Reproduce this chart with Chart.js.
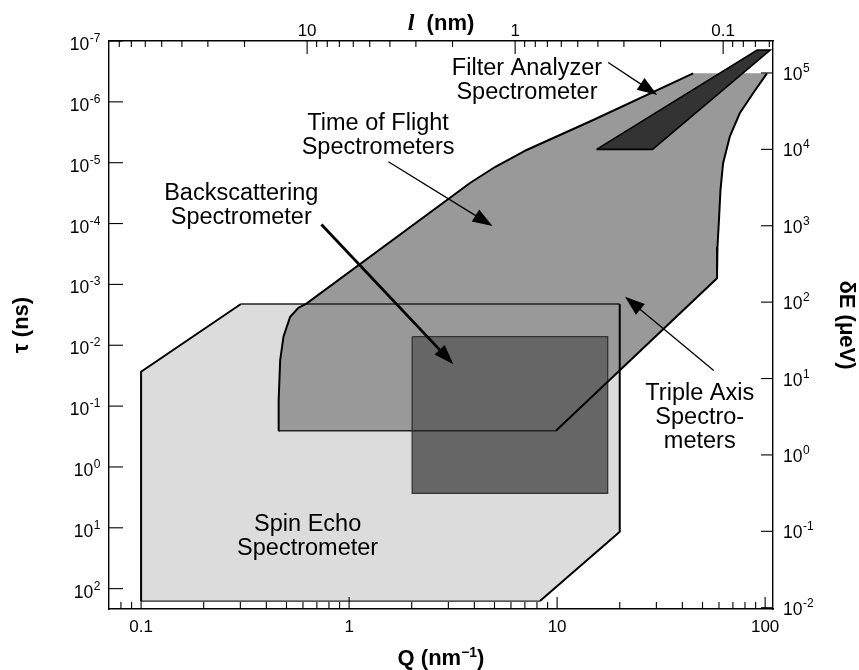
<!DOCTYPE html>
<html>
<head>
<meta charset="utf-8">
<script src="https://cdn.jsdelivr.net/npm/chart.js@4.4.1/dist/chart.umd.min.js"></script>
<style>
  html, body { margin: 0; padding: 0; background: #fff; }
  canvas { display: block; }
</style>
</head>
<body>
<canvas id="chart" width="859" height="670"></canvas>
<script>
// ---- axis ranges (Q in nm^-1, tau in ns, dE in ueV) ----
const qMin = 0.0701, qMax = 109.1;
const tauMin = 1e-7, tauMax = 216;
const eMin = 0.00962, eMax = 262000;

// ---- regions (Q, tau) ----
const spinQ   = [0.1, 0.1, 0.302, 20, 20, 8.27, 0.1];
const spinTau = [160, 0.0272, 0.0021, 0.0021, 11.6, 160, 160];

const backQ   = [2.01, 17.5, 17.5, 2.01, 2.01];
const backTau = [0.00723, 0.00723, 2.71, 2.71, 0.00723];

const tofQ   = [0.458, 0.4585, 0.4663, 0.4836, 0.5207, 0.569, 0.626, 3.813, 5.026, 7.138, 14.91, 45.06,
                102, 87.5, 75.5, 67.6, 62.8, 61.0, 60.1, 59.0, 58.7, 9.87, 0.458];
const tofTau = [0.254, 0.0794, 0.01746, 0.00723, 0.0034, 0.00244, 0.00205, 2.157e-5, 1.177e-5, 6.18e-6, 1.99e-6, 3.40e-7,
                3.40e-7, 7.22e-7, 1.54e-6, 3.74e-6, 1.02e-5, 2.81e-5, 7.71e-5, 2.40e-4, 7.94e-4, 0.254, 0.254];

const filterQ   = [15.48, 28.75, 105.8, 91.6, 15.48];
const filterTau = [6.03e-6, 6.03e-6, 1.41e-7, 1.41e-7, 6.03e-6];

// ---- tick values ----
const qMajor = [0.1, 1, 10, 100];
const qMajorLabels = ['0.1', '1', '10', '100'];
const qMinor = [0.08, 0.09, 0.2, 0.3, 0.4, 0.5, 0.6, 0.7, 0.8, 0.9, 2, 3, 4, 5, 6, 7, 8, 9,
                20, 30, 40, 50, 60, 70, 80, 90];
const lMajor = [10, 1, 0.1];
const lMajorLabels = ['10', '1', '0.1'];
const lMinor = [80, 70, 60, 50, 40, 30, 20, 9, 8, 7, 6, 5, 4, 3, 2,
                0.9, 0.8, 0.7, 0.6, 0.5, 0.4, 0.3, 0.2, 0.09, 0.08, 0.07, 0.06];
const tauExps = [-7, -6, -5, -4, -3, -2, -1, 0, 1, 2];
const eExps   = [-2, -1, 0, 1, 2, 3, 4, 5];

// ---- annotations ----
const notes = [
  { lines: ['Filter Analyzer', 'Spectrometer'], at: [7.16, 3.62e-7] },
  { lines: ['Time of Flight', 'Spectrometers'], at: [1.378, 2.90e-6] },
  { lines: ['Backscattering', 'Spectrometer'], at: [0.303, 4.10e-5] },
  { lines: ['Triple Axis', 'Spectro-', 'meters'], at: [48.5, 0.0794] },
  { lines: ['Spin Echo', 'Spectrometer'], at: [0.632, 11.3] }
];
const arrows = [
  { from: [17.6, 2.25e-7], to: [30.3, 7.72e-7], w: 1.3 },
  { from: [1.545, 9.63e-6], to: [4.89, 1.097e-4], w: 1.3 },
  { from: [0.736, 1.036e-4], to: [3.17, 0.02056], w: 2.8 },
  { from: [56.6, 0.026], to: [21.2, 1.59e-3], w: 1.3 }
];

const SANS = "'Liberation Sans', Arial, Helvetica, sans-serif";
const pts = (qs, ts) => qs.map((q, i) => ({ x: q, y: ts[i] }));
const flat = c => c.p0.parsed.y === c.p1.parsed.y;

function fillSet(qs, ts, color, order) {
  return { data: pts(qs, ts), showLine: true, fill: 'shape', backgroundColor: color,
           borderWidth: 0, borderColor: 'rgba(0,0,0,0)', pointRadius: 0, order: order };
}
function lineSet(qs, ts, color, width, extra) {
  return Object.assign({ data: pts(qs, ts), showLine: true, fill: false, borderColor: color,
           borderWidth: width, pointRadius: 0, order: 0, borderJoinStyle: 'miter' }, extra || {});
}

function drawPow(ctx, exp, x, y, align) {
  ctx.font = '17.5px ' + SANS;
  const w1 = ctx.measureText('10').width;
  ctx.font = '12px ' + SANS;
  const es = String(exp);
  const w2 = ctx.measureText(es).width;
  let x0 = align === 'right' ? x - w1 - w2 : x;
  ctx.textAlign = 'left';
  ctx.textBaseline = 'alphabetic';
  ctx.font = '17.5px ' + SANS;
  ctx.fillText('10', x0, y);
  ctx.font = '12px ' + SANS;
  ctx.fillText(es, x0 + w1 + 0.5, y - 8);
}

function arrow(ctx, x1, y1, x2, y2, w) {
  const ang = Math.atan2(y2 - y1, x2 - x1);
  const len = 20, half = 7;
  const bx = x2 - len * Math.cos(ang), by = y2 - len * Math.sin(ang);
  ctx.lineWidth = w;
  ctx.beginPath();
  ctx.moveTo(x1, y1);
  ctx.lineTo(bx + 4 * Math.cos(ang), by + 4 * Math.sin(ang));
  ctx.stroke();
  ctx.beginPath();
  ctx.moveTo(x2, y2);
  ctx.lineTo(bx + half * Math.sin(ang), by - half * Math.cos(ang));
  ctx.lineTo(bx - half * Math.sin(ang), by + half * Math.cos(ang));
  ctx.closePath();
  ctx.fill();
}

const decor = {
  id: 'decor',
  afterDraw(chart) {
    const { ctx, chartArea: a, scales: { x, x2, y, y2 } } = chart;
    ctx.save();
    ctx.strokeStyle = '#000';
    ctx.fillStyle = '#000';
    ctx.lineWidth = 1.1;
    const seg = (xa, ya, xb, yb) => { ctx.beginPath(); ctx.moveTo(xa, ya); ctx.lineTo(xb, yb); ctx.stroke(); };

    // ticks (pointing into plot)
    qMajor.forEach(v => { const p = x.getPixelForValue(v); seg(p, a.bottom, p, a.bottom - 12); });
    qMinor.forEach(v => { const p = x.getPixelForValue(v); seg(p, a.bottom, p, a.bottom - 7); });
    lMajor.forEach(v => { const p = x2.getPixelForValue(v); seg(p, a.top, p, a.top + 13); });
    lMinor.forEach(v => { const p = x2.getPixelForValue(v); seg(p, a.top, p, a.top + 6); });
    tauExps.forEach(e => { const p = y.getPixelForValue(Math.pow(10, e)); seg(a.left, p, a.left + 14, p); });
    eExps.forEach(e => { const p = y2.getPixelForValue(Math.pow(10, e)); seg(a.right, p, a.right - 12, p); });

    // tick labels
    ctx.font = '17px ' + SANS;
    ctx.textAlign = 'center';
    ctx.textBaseline = 'alphabetic';
    qMajor.forEach((v, i) => ctx.fillText(qMajorLabels[i], x.getPixelForValue(v), a.bottom + 23));
    lMajor.forEach((v, i) => ctx.fillText(lMajorLabels[i], x2.getPixelForValue(v), a.top - 5));
    tauExps.forEach(e => drawPow(ctx, e, a.left - 9, y.getPixelForValue(Math.pow(10, e)) + 9, 'right'));
    eExps.forEach(e => drawPow(ctx, e, a.right + 10, y2.getPixelForValue(Math.pow(10, e)) + 7, 'left'));

    // axis titles
    const cx = (a.left + a.right) / 2, cy = (a.top + a.bottom) / 2;
    ctx.font = 'bold 22px ' + SANS;
    const wq = ctx.measureText('Q (nm').width, wp = ctx.measureText(')').width;
    ctx.font = 'bold 14px ' + SANS;
    const ws = ctx.measureText('\u22121').width;
    let xs = cx - (wq + ws + wp) / 2;
    ctx.textAlign = 'left';
    ctx.font = 'bold 22px ' + SANS;
    ctx.fillText('Q (nm', xs, a.bottom + 56);
    ctx.font = 'bold 14px ' + SANS;
    ctx.fillText('\u22121', xs + wq, a.bottom + 48);
    ctx.font = 'bold 22px ' + SANS;
    ctx.fillText(')', xs + wq + ws, a.bottom + 56);

    ctx.font = 'italic bold 24px "Liberation Serif", serif';
    const wl = ctx.measureText('l').width;
    ctx.font = 'bold 22px ' + SANS;
    const wn = ctx.measureText('  (nm)').width;
    xs = cx - (wl + wn) / 2;
    ctx.font = 'italic bold 24px "Liberation Serif", serif';
    ctx.fillText('l', xs, a.top - 11.5);
    ctx.font = 'bold 22px ' + SANS;
    ctx.fillText('  (nm)', xs + wl, a.top - 11.5);

    ctx.textAlign = 'center';
    ctx.textBaseline = 'middle';
    ctx.save();
    ctx.translate(22, cy);
    ctx.rotate(-Math.PI / 2);
    ctx.fillText('\u03c4 (ns)', 0, 0);
    ctx.restore();
    ctx.save();
    ctx.translate(846, cy);
    ctx.rotate(Math.PI / 2);
    ctx.fillText('\u03b4E (\u03bceV)', 0, 0);
    ctx.restore();

    // arrows
    arrows.forEach(r => {
      arrow(ctx, x.getPixelForValue(r.from[0]), y.getPixelForValue(r.from[1]),
                 x.getPixelForValue(r.to[0]), y.getPixelForValue(r.to[1]), r.w);
    });

    // region labels
    ctx.font = '23.5px ' + SANS;
    ctx.textAlign = 'center';
    ctx.textBaseline = 'alphabetic';
    notes.forEach(n => {
      const px = x.getPixelForValue(n.at[0]), py = y.getPixelForValue(n.at[1]);
      n.lines.forEach((s, i) => ctx.fillText(s, px, py + i * 24));
    });
    ctx.restore();
  }
};

const hidden = { display: false, drawTicks: false };
const border = { display: true, color: '#000', width: 1.4 };

new Chart(document.getElementById('chart'), {
  type: 'scatter',
  data: {
    datasets: [
      lineSet(filterQ, filterTau, '#000', 1.6),
      lineSet(tofQ, tofTau, '#000', 2, {
        segment: {
          borderColor: c => (flat(c) && c.p0.parsed.y < 1e-6) ? 'rgba(0,0,0,0)' : (flat(c) ? '#222' : undefined),
          borderWidth: c => flat(c) ? 1.3 : undefined
        }
      }),
      lineSet(backQ, backTau, '#333', 1.3),
      lineSet(spinQ, spinTau, '#000', 2, {
        segment: {
          borderColor: c => flat(c) ? '#222' : undefined,
          borderWidth: c => flat(c) ? 1.3 : undefined
        }
      }),
      fillSet(filterQ, filterTau, '#333333', 1),
      fillSet(backQ, backTau, '#666666', 2),
      fillSet(tofQ, tofTau, '#999999', 3),
      fillSet(spinQ, spinTau, '#dcdcdc', 4)
    ]
  },
  options: {
    responsive: false,
    animation: false,
    events: [],
    layout: { padding: { left: 109, right: 86, top: 41, bottom: 61 } },
    plugins: { legend: { display: false }, tooltip: { enabled: false } },
    scales: {
      x:  { type: 'logarithmic', position: 'bottom', min: qMin, max: qMax, grid: hidden, border: border, ticks: { display: false } },
      x2: { type: 'logarithmic', position: 'top', reverse: true, min: 2 * Math.PI / qMax, max: 2 * Math.PI / qMin, grid: hidden, border: border, ticks: { display: false } },
      y:  { type: 'logarithmic', position: 'left', reverse: true, min: tauMin, max: tauMax, grid: hidden, border: border, ticks: { display: false } },
      y2: { type: 'logarithmic', position: 'right', min: eMin, max: eMax, grid: hidden, border: border, ticks: { display: false } }
    }
  },
  plugins: [decor]
});
</script>
</body>
</html>
